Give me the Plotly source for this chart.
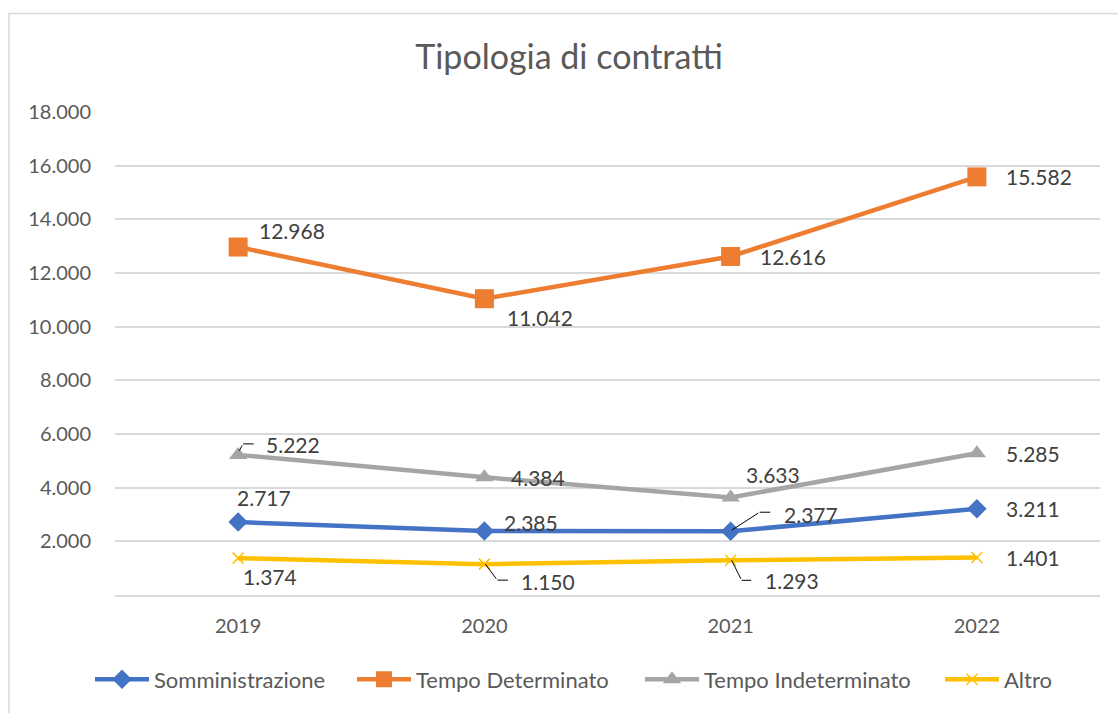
import plotly.graph_objects as go

anni = ["2019", "2020", "2021", "2022"]
somministrazione = [2717, 2385, 2377, 3211]
tempo_determinato = [12968, 11042, 12616, 15582]
tempo_indeterminato = [5222, 4384, 3633, 5285]
altro = [1374, 1150, 1293, 1401]
y_ticks = [2000, 4000, 6000, 8000, 10000, 12000, 14000, 16000, 18000]

FONT = "Lato"
TEXT_COLOR = "#595959"
GRID_COLOR = "#D9D9D9"


def it_num(v):
    return f"{v:,}".replace(",", ".")


series = [
    ("Somministrazione", somministrazione, "#4472C4", "diamond", 15, 0),
    ("Tempo Determinato", tempo_determinato, "#ED7D31", "square", 19, 0),
    ("Tempo Indeterminato", tempo_indeterminato, "#A5A5A5", "triangle-up", 16, 0),
    ("Altro", altro, "#FFC000", "x-thin-open", 11, 1.5),
]

# one legend box per series so the entries sit where Excel puts them (px from left)
legend_left_px = [90, 352, 640, 940]

# label offsets (xshift, yshift) in px, per series per year
label_shift = {
    "Somministrazione": [(-3, 25), (18, 9), (51, 17), (27, 0)],
    "Tempo Determinato": [(19, 17), (21, -19), (27, 0), (27, 0)],
    "Tempo Indeterminato": [(26, 10), (25, 0), (13, 23), (27, 0)],
    "Altro": [(3, -18), (35, -17), (32, -20), (27, 0)],
}

# elbow leader lines: (series, year index, head, corner, end), px offsets (y down)
leaders = [
    ("Tempo Indeterminato", 0, (1, -4), (5, -11), (17, -11)),
    ("Somministrazione", 2, (1, -1), (29, -19), (41, -19)),
    ("Altro", 1, (1, 0), (13, 16), (25, 16)),
    ("Altro", 2, (1, 0), (11, 20), (22, 20)),
]

xpos = list(range(len(anni)))
PLOT_L, PLOT_W = 115, 985

fig = go.Figure()
legend_layout = {}
for k, (name, vals, color, symbol, size, mlw) in enumerate(series):
    leg_id = "legend" if k == 0 else f"legend{k + 1}"
    legend_layout[leg_id] = {
        "orientation": "h",
        "x": (legend_left_px[k] - PLOT_L) / PLOT_W, "xanchor": "left",
        "y": -0.175, "yanchor": "middle",
        "font": {"family": FONT, "size": 22, "color": TEXT_COLOR},
        "bgcolor": "rgba(0,0,0,0)",
        "itemwidth": 54,
    }
    marker = {"symbol": symbol, "size": size, "color": color}
    if mlw:
        marker["line"] = {"color": color, "width": mlw}
    fig.add_trace(
        go.Scatter(
            x=xpos,
            y=vals,
            name=name,
            legend=leg_id,
            showlegend=True,
            mode="lines+markers",
            line={"color": color, "width": 4.5},
            marker=marker,
        )
    )
    for i, v in enumerate(vals):
        dx, dy = label_shift[name][i]
        fig.add_annotation(
            x=xpos[i], y=v, text=it_num(v), showarrow=False,
            xanchor="left", yanchor="middle", xshift=dx, yshift=dy,
            font={"family": FONT, "size": 21, "color": "#404040"},
        )

vals_by_name = {s[0]: s[1] for s in series}
for name, i, head, corner, end in leaders:
    v = vals_by_name[name][i]
    for a, b in ((head, corner), (corner, end)):
        fig.add_annotation(
            x=xpos[i], y=v, text="", showarrow=True, arrowhead=0,
            arrowwidth=1, arrowcolor="#000000",
            xshift=a[0], yshift=-a[1], ax=b[0] - a[0], ay=b[1] - a[1],
            standoff=0, startstandoff=0,
        )

# chart border (extends past the screenshot edges like the reference)
fig.add_shape(
    type="rect", xref="paper", yref="paper",
    x0=-0.1076, x1=1.03, y0=-0.26, y1=1.2037,
    line={"color": GRID_COLOR, "width": 1.5}, fillcolor="rgba(0,0,0,0)",
)

fig.update_layout(
    width=1118,
    height=713,
    showlegend=True,
    margin={"l": PLOT_L, "r": 18, "t": 112, "b": 115},
    paper_bgcolor="white",
    plot_bgcolor="white",
    separators=",.",
    font={"family": FONT, "size": 20, "color": TEXT_COLOR},
    title={
        "text": "Tipologia di contratti",
        "x": 569 / 1118, "xanchor": "center",
        "y": 1 - 57 / 713, "yanchor": "middle",
        "font": {"family": FONT, "size": 34, "color": TEXT_COLOR},
    },
    xaxis={
        "range": [-0.5, 3.5],
        "tickvals": xpos,
        "ticktext": anni,
        "showgrid": False,
        "zeroline": False,
        "showline": True,
        "linecolor": GRID_COLOR,
        "linewidth": 1.5,
        "ticks": "",
        "ticklabelstandoff": 12,
        "tickfont": {"family": FONT, "size": 20, "color": TEXT_COLOR},
        "fixedrange": True,
    },
    yaxis={
        "range": [0, 18000],
        "tickvals": y_ticks,
        "tickformat": ",d",
        "showgrid": True,
        "gridcolor": GRID_COLOR,
        "gridwidth": 1.5,
        "zeroline": False,
        "ticks": "",
        "ticklabelstandoff": 23,
        "tickfont": {"family": FONT, "size": 20, "color": TEXT_COLOR},
        "fixedrange": True,
    },
    **legend_layout,
)

fig.write_html(
    "out.html",
    config={"displayModeBar": False},
    post_script="document.body.style.margin='0';",
)
